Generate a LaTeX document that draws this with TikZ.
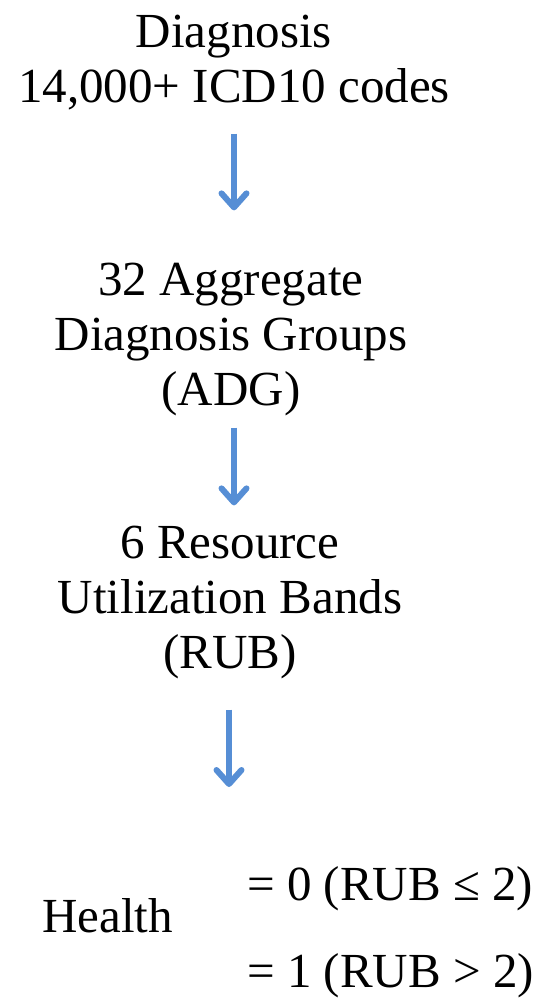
\documentclass[tikz,border=0pt]{standalone}
\usepackage{fontspec}
\setmainfont{Liberation Serif}
\usetikzlibrary{arrows.meta}
\definecolor{flowblue}{RGB}{86,142,213}
\tikzset{
  label/.style={inner sep=0pt, align=center, anchor=base,
    font=\fontsize{49}{55}\selectfont},
  cond/.style={inner sep=0pt, anchor=base west,
    font=\fontsize{49}{55}\selectfont},
  flow/.style={draw=flowblue, line width=6pt,
    -{Straight Barb[round,length=14pt,width=25pt]}}
}
\begin{document}
\begin{tikzpicture}[x=1pt,y=-1pt]
  \useasboundingbox (0,0) rectangle (542,999);
  % Steps (base = last line)
  \node[label] (diag) at (234,102) {Diagnosis\\14,000+ ICD10 codes};
  \node[label] (adg)  at (231,405) {32 Aggregate\\Diagnosis Groups\\(ADG)};
  \node[label] (rub)  at (230,668) {6 Resource\\Utilization Bands\\(RUB)};
  % Outcome
  \node[cond] (health) at (42,932) {Health};
  \node[cond] (zero)   at (247,900) {= 0 (RUB ≤ 2)};
  \node[cond] (one)    at (247,987) {= 1 (RUB > 2)};
  \coordinate (end) at (229,787);
  % Arrows
  \draw[flow, shorten <=24pt, shorten >=52pt] (diag.south) -- (diag.south |- adg.north);
  \draw[flow, shorten <=12pt, shorten >=20pt] (adg.south -| diag.south) -- (diag.south |- rub.north);
  \draw[flow, shorten <=31pt] (rub.south -| end) -- (end);
\end{tikzpicture}
\end{document}
